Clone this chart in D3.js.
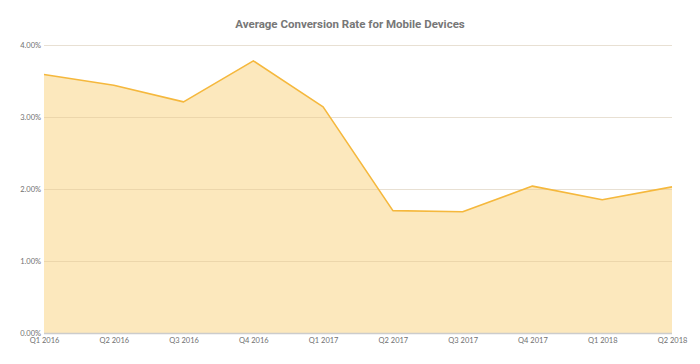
<!DOCTYPE html>
<html><head><meta charset="utf-8">
<script src="https://cdn.jsdelivr.net/npm/d3@7"></script>
<style>body{margin:0;background:#fff;} svg{display:block;}</style>
</head><body>
<svg id="c" width="700" height="364"></svg>
<script>
const categories = ["Q1 2016","Q2 2016","Q3 2016","Q4 2016","Q1 2017","Q2 2017","Q3 2017","Q4 2017","Q1 2018","Q2 2018"];
const values = [3.59, 3.44, 3.21, 3.78, 3.14, 1.70, 1.685, 2.04, 1.85, 2.03];
const yTicks = [0, 1, 2, 3, 4];
const title = "Average Conversion Rate for Mobile Devices";

const svg = d3.select("#c");
const m = {l:44, r:672, t:45, b:333};
const x = d3.scalePoint().domain(categories).range([m.l, m.r]);
const y = d3.scaleLinear().domain([0,4]).range([m.b, m.t]);

// grid
svg.append("g").selectAll("line").data(yTicks.filter(d=>d>0)).join("line")
  .attr("x1", m.l).attr("x2", m.r)
  .attr("y1", d=>Math.round(y(d))+0.5).attr("y2", d=>Math.round(y(d))+0.5)
  .attr("stroke", "#ebebeb").attr("stroke-width", 1);

// area
const data = categories.map((c,i)=>({c, v:values[i]}));
svg.append("path").datum(data)
  .attr("d", d3.area().x(d=>x(d.c)).y0(y(0)).y1(d=>y(d.v)))
  .attr("fill", "#f9cd6c").attr("fill-opacity", 0.45);

// grid over area (faint)
svg.append("g").selectAll("line").data(yTicks.filter(d=>d>0)).join("line")
  .attr("x1", m.l).attr("x2", m.r)
  .attr("y1", d=>Math.round(y(d))+0.5).attr("y2", d=>Math.round(y(d))+0.5)
  .attr("stroke", "#e0c89a").attr("stroke-opacity", 0.3).attr("stroke-width", 1);

svg.append("path").datum(data)
  .attr("d", d3.line().x(d=>x(d.c)).y(d=>y(d.v)))
  .attr("fill", "none").attr("stroke", "#f5b83d").attr("stroke-width", 1.6)
  .attr("stroke-linejoin", "round");

// baseline
svg.append("line").attr("x1", m.l).attr("x2", m.r)
  .attr("y1", y(0)+0.5).attr("y2", y(0)+0.5)
  .attr("stroke", "#cccccc").attr("stroke-width", 1.5);

// y axis labels
const yAxis = d3.axisLeft(y).tickValues(yTicks).tickSize(0).tickPadding(3)
  .tickFormat(d=>d3.format(".2f")(d)+"%");
const ga = svg.append("g").attr("transform", `translate(${m.l},0)`).call(yAxis);
ga.select(".domain").remove();
ga.selectAll("text").attr("font-family","Lato, 'Open Sans', sans-serif").attr("font-size", 7.5).attr("fill","#707070");

// x axis labels
const xAxis = d3.axisBottom(x).tickSize(0).tickPadding(5);
const gx = svg.append("g").attr("transform", `translate(0,${m.b})`).call(xAxis);
gx.select(".domain").remove();
gx.selectAll("text").attr("font-family","Lato, 'Open Sans', sans-serif").attr("font-size", 7.5).attr("fill","#707070");

svg.append("text").attr("x", 350).attr("y", 28).attr("text-anchor","middle")
  .attr("font-family","Roboto, sans-serif").attr("font-weight","bold").attr("font-size", 11.5)
  .attr("fill","#777").text(title);
</script>
</body></html>
